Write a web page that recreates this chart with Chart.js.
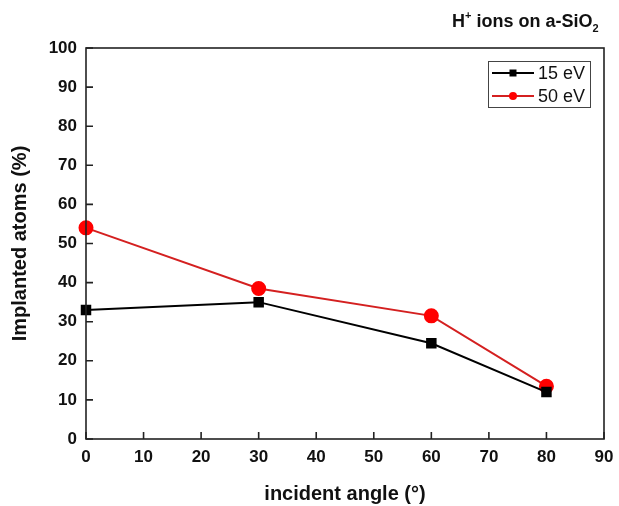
<!DOCTYPE html>
<html><head><meta charset="utf-8">
<script src="https://cdn.jsdelivr.net/npm/chart.js@4/dist/chart.umd.min.js"></script>
<style>html,body{margin:0;padding:0;background:#fff}#wrap{width:619px;height:506px}</style>
</head><body><div id="wrap"><canvas id="c" width="619" height="506"></canvas></div>
<script>
const angles = [0, 30, 60, 80];
const implanted15 = [33, 35, 24.5, 12];
const implanted50 = [54, 38.5, 31.5, 13.5];
const seriesLabels = ['15 eV', '50 eV'];
const xTicks = [0,10,20,30,40,50,60,70,80,90];
const yTicks = [0,10,20,30,40,50,60,70,80,90,100];

const FONT = '"Liberation Sans", Arial, sans-serif';

const frame = {
  id: 'frame',
  afterDraw(chart) {
    const {ctx, chartArea: a, scales: {x, y}} = chart;
    ctx.save();
    ctx.strokeStyle = '#222';
    ctx.lineWidth = 1.6;
    ctx.strokeRect(a.left, a.top, a.right - a.left, a.bottom - a.top);
    ctx.beginPath();
    xTicks.forEach(v => { const px = x.getPixelForValue(v); ctx.moveTo(px, a.bottom); ctx.lineTo(px, a.bottom - 7); });
    yTicks.forEach(v => { const py = y.getPixelForValue(v); ctx.moveTo(a.left, py); ctx.lineTo(a.left + 7, py); });
    ctx.stroke();
    // legend
    const lx = 488, ly = 61, lw = 102, lh = 46;
    ctx.lineWidth = 1;
    ctx.strokeStyle = '#444';
    ctx.strokeRect(lx + 0.5, ly + 0.5, lw, lh);
    chart.data.datasets.forEach((ds, i) => {
      const ry = ly + 12 + i * 23;
      ctx.strokeStyle = ds.borderColor; ctx.lineWidth = 2;
      ctx.beginPath(); ctx.moveTo(lx + 4, ry); ctx.lineTo(lx + 46, ry); ctx.stroke();
      ctx.fillStyle = ds.pointBackgroundColor;
      if (ds.pointStyle === 'rect') ctx.fillRect(lx + 21.5, ry - 3.5, 7, 7);
      else { ctx.beginPath(); ctx.arc(lx + 25, ry, 4, 0, Math.PI * 2); ctx.fill(); }
      ctx.fillStyle = '#111';
      ctx.font = '18px ' + FONT;
      ctx.textBaseline = 'middle';
      ctx.fillText(ds.label, lx + 50, ry + 1);
    });
    // title
    ctx.fillStyle = '#111';
    ctx.textBaseline = 'alphabetic';
    let tx = 452; const ty = 27;
    const parts = [['H', 18, 0], ['+', 11, -8], [' ions on a-SiO', 18, 0], ['2', 11, 5]];
    parts.forEach(([t, s, dy]) => {
      ctx.font = 'bold ' + s + 'px ' + FONT;
      ctx.fillText(t, tx, ty + dy);
      tx += ctx.measureText(t).width;
    });
    ctx.restore();
  }
};

new Chart(document.getElementById('c'), {
  type: 'line',
  data: {
    datasets: [
      { label: seriesLabels[0], data: angles.map((a, i) => ({x: a, y: implanted15[i]})),
        borderColor: '#000', backgroundColor: '#000', pointBackgroundColor: '#000', pointBorderColor: '#000',
        pointStyle: 'rect', pointRadius: 6, borderWidth: 2, tension: 0 },
      { label: seriesLabels[1], data: angles.map((a, i) => ({x: a, y: implanted50[i]})),
        borderColor: '#d42020', backgroundColor: '#ff0000', pointBackgroundColor: '#ff0000', pointBorderColor: '#ff0000',
        pointStyle: 'circle', pointRadius: 6.5, borderWidth: 2, tension: 0 }
    ]
  },
  options: {
    responsive: false, animation: false, devicePixelRatio: 1,
    clip: false,
    layout: { padding: { left: 0, right: 15, top: 48, bottom: 0 } },
    plugins: { legend: { display: false }, tooltip: { enabled: false }, title: { display: false } },
    scales: {
      x: { type: 'linear', min: 0, max: 90,
        afterBuildTicks: s => { s.ticks = xTicks.map(v => ({value: v})); },
        afterFit: s => { s.height = 67; s.paddingRight = 0; s.paddingLeft = 0; },
        grid: { display: false, drawTicks: false }, border: { display: false },
        ticks: { color: '#111', font: { family: FONT, size: 17, weight: 'bold' }, padding: 8, maxRotation: 0 },
        title: { display: true, text: 'incident angle (°)', color: '#111', font: { family: FONT, size: 20, weight: 'bold' }, padding: { top: 0, bottom: 0 } } },
      y: { type: 'linear', min: 0, max: 100,
        afterBuildTicks: s => { s.ticks = yTicks.map(v => ({value: v})); },
        afterFit: s => { s.width = 86; s.paddingTop = 0; s.paddingBottom = 0; },
        grid: { display: false, drawTicks: false }, border: { display: false },
        ticks: { color: '#111', font: { family: FONT, size: 17, weight: 'bold' }, padding: 9 },
        title: { display: true, text: 'Implanted atoms (%)', color: '#111', font: { family: FONT, size: 20, weight: 'bold' }, padding: { top: 8, bottom: 0 } } }
    }
  },
  plugins: [frame]
});
</script></body></html>
